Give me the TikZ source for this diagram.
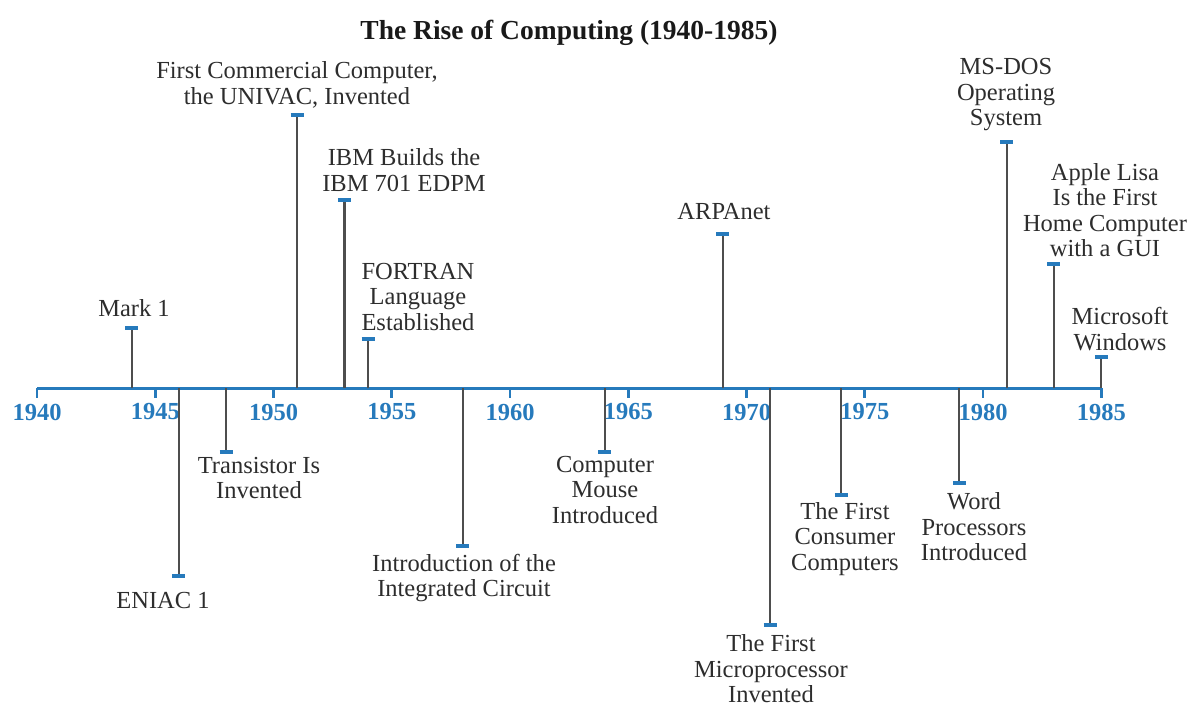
\documentclass[tikz,border=0pt]{standalone}
\usepackage{fontspec}
\setmainfont{Liberation Serif}
\definecolor{axisblue}{RGB}{38,122,188}
\definecolor{stemgray}{RGB}{78,78,78}
\definecolor{txtgray}{RGB}{45,45,45}
\tikzset{
  axisline/.style={draw=axisblue, line width=3bp},
  ytick/.style={draw=axisblue, line width=2.6bp},
  stemline/.style={draw=stemgray, line width=2.2bp},
  capbar/.style={draw=axisblue, line width=3.6bp},
  yearlbl/.style={text=axisblue, font=\fontsize{24.5bp}{26bp}\selectfont\bfseries, inner sep=0pt},
  evlbl/.style={text=txtgray, align=center, inner sep=0pt, font=\fontsize{24.5bp}{25.5bp}\selectfont},
  titlelbl/.style={text=black!90, inner sep=0pt, font=\fontsize{27.5bp}{29bp}\selectfont\bfseries}
}
\begin{document}
\begin{tikzpicture}[x=1bp,y=-1bp]
\useasboundingbox (0,0) rectangle (1200,706);
\node[titlelbl] (title) at (569,33) {The Rise of Computing (1940-1985)};
% axis
\coordinate (axL) at (37,388);
\coordinate (axR) at (1102,388);
\draw[axisline] (axL) -- (axR);
% ticks and year labels
\foreach \yr in {1940,1945,...,1985}{
  \pgfmathsetmacro{\xx}{37+23.65*(\yr-1940)}
  \coordinate (t\yr) at (\xx,388);
  \coordinate (tb\yr) at (\xx,398);
  \draw[ytick] (t\yr) -- (tb\yr);
  \node[yearlbl] (y\yr) at (\xx,412) {\yr};
}
% events: name/year/end y/label x/label y/text
\foreach \nm/\yr/\ey/\lx/\ly/\txt in {
  mark/1944/328/134/308/{Mark 1},
  eniac/1946/576/163/601/{ENIAC 1},
  trans/1948/452/259/478/{Transistor Is\\Invented},
  univac/1951/115/297/85/{First Commercial Computer,\\the UNIVAC, Invented},
  ibm/1953/200/404/170/{IBM Builds the\\IBM 701 EDPM},
  fortran/1954/339/418/297/{FORTRAN\\Language\\Established},
  ic/1958/546/464/578/{Introduction of the\\Integrated Circuit},
  mouse/1964/452/605/490/{Computer\\Mouse\\Introduced},
  arpa/1969/234/724/212/{ARPAnet},
  micro/1971/625/771/669/{The First\\Microprocessor\\Invented},
  consumer/1974/495/845/539/{The First\\Consumer\\Computers},
  word/1979/483/974/527/{Word\\Processors\\Introduced},
  msdos/1981/142/1006/95/{MS-DOS\\Operating\\System},
  lisa/1983/264/1105/210/{Apple Lisa\\Is the First\\Home Computer\\with a GUI},
  windows/1985/357/1120/329/{Microsoft\\Windows}}{
  \pgfmathsetmacro{\xx}{37+23.65*(\yr-1940)}
  \coordinate (\nm-a) at (\xx,388);
  \coordinate (\nm-e) at (\xx,\ey);
  \coordinate (\nm-cl) at (\xx-6.5,\ey);
  \coordinate (\nm-cr) at (\xx+6.5,\ey);
  \draw[stemline] (\nm-a) -- (\nm-e);
  \draw[capbar] (\nm-cl) -- (\nm-cr);
  \node[evlbl] (\nm) at (\lx,\ly) {\txt};
}
\end{tikzpicture}
\end{document}
